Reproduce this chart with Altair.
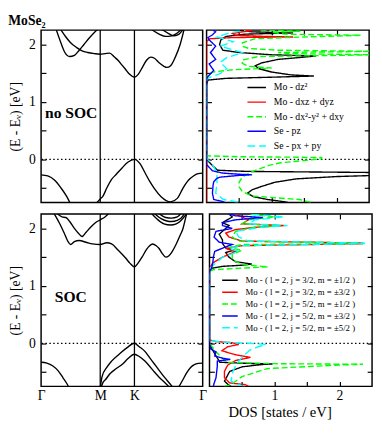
import altair as alt
import pandas as pd

SERIF = "Liberation Serif"

# ---------------- axes / ticks ----------------
K_TICKS = [0.0, 0.577, 0.911, 1.577]
K_LABELS = ["Γ", "M", "K", "Γ"]
K_LINES = [0.577, 0.911]
E_TICKS = [-0.5, 0.0, 0.5, 1.0, 1.5, 2.0]
DOS_TICKS = [0.5, 1.0, 1.5, 2.0]
E_DOMAIN = [-0.75, 2.25]
K_DOMAIN = [0.0, 1.577]
DOS_DOMAIN = [0.0, 2.5]

# ---------------- bands, no SOC ----------------
NS_VB1_K = [0.0, 0.065, 0.130, 0.195, 0.251, 0.288]
NS_VB1_E = [-0.27, -0.29, -0.36, -0.50, -0.65, -0.78]
NS_VB2_K = [0.530, 0.577, 0.604, 0.641, 0.688, 0.734, 0.790, 0.846, 0.911, 0.967, 1.013,
            1.059, 1.106, 1.171, 1.264, 1.329, 1.385, 1.440, 1.487, 1.533, 1.577]
NS_VB2_E = [-0.78, -0.69, -0.64, -0.50, -0.35, -0.26, -0.15, -0.05, 0.0, -0.08, -0.23,
            -0.38, -0.51, -0.65, -0.74, -0.68, -0.50, -0.36, -0.29, -0.25, -0.24]
NS_CB1_K = [0.149, 0.195, 0.232, 0.279, 0.325, 0.372, 0.418, 0.474, 0.548]
NS_CB1_E = [2.25, 2.02, 1.86, 1.79, 1.81, 1.90, 2.00, 2.12, 2.26]
NS_CB2_K = [0.195, 0.242, 0.288, 0.344, 0.400, 0.455, 0.520, 0.577, 0.623, 0.669, 0.716,
            0.753, 0.790, 0.827, 0.864, 0.911, 0.948, 0.994, 1.031, 1.069, 1.106, 1.152,
            1.199, 1.227, 1.264, 1.310, 1.357, 1.394]
NS_CB2_E = [2.25, 2.13, 2.03, 1.95, 1.89, 1.86, 1.84, 1.83, 1.84, 1.85, 1.78,
            1.72, 1.64, 1.56, 1.48, 1.43, 1.48, 1.62, 1.73, 1.78, 1.76, 1.68,
            1.62, 1.60, 1.63, 1.78, 2.00, 2.25]
NS_CB3_K = [1.078, 1.152, 1.217, 1.273, 1.329, 1.366]
NS_CB3_E = [2.26, 2.18, 2.14, 2.15, 2.20, 2.26]
NS_CB4_K = [1.180, 1.245, 1.292, 1.338, 1.385]
NS_CB4_E = [2.26, 2.19, 2.15, 2.17, 2.26]

# ---------------- bands, SOC ----------------
S_VB1_K = [0.0, 0.056, 0.112, 0.167, 0.214, 0.251, 0.274]
S_VB1_E = [-0.33, -0.345, -0.39, -0.48, -0.60, -0.70, -0.78]
S_VB2_K = [0.577, 0.595, 0.641, 0.688, 0.762, 0.836, 0.911, 0.958, 1.013, 1.059, 1.106,
           1.152, 1.199, 1.255, 1.292]
S_VB2_E = [-0.78, -0.58, -0.42, -0.31, -0.19, -0.08, 0.0, -0.06, -0.14, -0.25, -0.36,
           -0.47, -0.58, -0.70, -0.78]
S_VB3_K = [0.585, 0.604, 0.625, 0.672, 0.734, 0.796, 0.846, 0.911, 0.958, 1.013, 1.059,
           1.106, 1.152, 1.199, 1.261]
S_VB3_E = [-0.78, -0.68, -0.64, -0.53, -0.44, -0.36, -0.27, -0.19, -0.23, -0.31, -0.40,
           -0.50, -0.59, -0.67, -0.78]
S_VB4_K = [1.338, 1.385, 1.422, 1.459, 1.496, 1.533, 1.577]
S_VB4_E = [-0.78, -0.63, -0.51, -0.42, -0.37, -0.35, -0.345]
S_CBA_K = [0.130, 0.177, 0.223, 0.260, 0.288, 0.325, 0.372, 0.437, 0.502, 0.577, 0.641,
           0.688, 0.753, 0.827, 0.864, 0.911, 0.948, 0.985, 1.031, 1.059, 1.087, 1.124,
           1.152, 1.180, 1.217, 1.245, 1.273, 1.319, 1.357, 1.385, 1.413, 1.422]
S_CBA_E = [2.25, 2.10, 1.93, 1.78, 1.72, 1.77, 1.79, 1.76, 1.73, 1.72, 1.75,
           1.73, 1.62, 1.48, 1.40, 1.33, 1.40, 1.50, 1.64, 1.70, 1.73, 1.70,
           1.65, 1.57, 1.50, 1.52, 1.58, 1.73, 1.88, 2.00, 2.20, 2.26]
S_CBB_K = [0.158, 0.204, 0.242, 0.279, 0.325, 0.362, 0.400, 0.437, 0.483, 0.530, 0.577,
           0.623, 0.660]
S_CBB_E = [2.26, 2.20, 2.19, 2.12, 2.00, 1.92, 1.86, 1.93, 2.02, 2.10, 2.15, 2.20, 2.26]
S_L1_K = [1.078, 1.134, 1.199, 1.264, 1.319, 1.366, 1.422]
S_L1_E = [2.26, 2.16, 2.08, 2.06, 2.08, 2.14, 2.26]
S_L2_K = [1.106, 1.171, 1.227, 1.273, 1.329, 1.385, 1.394]
S_L2_E = [2.26, 2.17, 2.13, 2.12, 2.14, 2.22, 2.26]
S_L3_K = [1.152, 1.217, 1.273, 1.329, 1.366]
S_L3_E = [2.26, 2.19, 2.18, 2.20, 2.26]

# ---------------- DOS, no SOC ----------------
NS_LABELS = ["Mo - dz²", "Mo - dxz + dyz", "Mo - dx²-y² + dxy", "Se  - pz", "Se  - px + py"]
NS_BLACK_E = [-0.75, -0.73, -0.70, -0.65, -0.59, -0.53, -0.47, -0.40, -0.34, -0.30, -0.28, -0.25,
              -0.23, -0.21, -0.19, -0.12, -0.05, 0.0, 0.1,
              1.30, 1.38, 1.41, 1.43, 1.45, 1.47, 1.52, 1.58, 1.63, 1.68, 1.74, 1.78, 1.80,
              1.82, 1.86, 1.90, 2.0, 2.08, 2.14, 2.18, 2.20, 2.22, 2.25]
NS_BLACK_D = [1.25, 1.14, 0.94, 0.72, 0.63, 0.70, 0.85, 1.05, 1.38, 2.0, 2.6, 2.6,
              2.6, 0.6, 0.17, 0.10, 0.04, 0.0, 0.0,
              0.0, 0.02, 0.3, 1.0, 1.65, 1.3, 1.0, 0.8, 0.75, 0.85, 1.1, 1.5, 1.68,
              1.0, 0.5, 0.25, 0.2, 0.22, 0.3, 0.6, 1.33, 0.7, 0.5]
NS_RED_E = [-0.75, 0.1, 1.30, 2.05, 2.10, 2.12, 2.13, 2.14, 2.16, 2.19, 2.22, 2.24, 2.25]
NS_RED_D = [0.0, 0.0, 0.0, 0.0, 0.05, 0.4, 1.33, 0.9, 0.45, 0.4, 0.55, 0.7, 0.6]
NS_GREEN_E = [-0.75, -0.72, -0.70, -0.64, -0.56, -0.48, -0.40, -0.31, -0.24, -0.17, -0.10, -0.06,
              -0.02, 0.01, 0.033, 0.045, 0.06, 0.1,
              1.30, 1.45, 1.52, 1.56, 1.59, 1.62, 1.67, 1.73, 1.79, 1.82, 1.84, 1.86, 1.88,
              1.90, 1.93, 1.97, 2.03, 2.10, 2.13, 2.16, 2.18, 2.21, 2.23, 2.25]
NS_GREEN_D = [1.6, 1.5, 1.43, 0.7, 0.55, 0.5, 0.5, 0.55, 0.65, 0.8, 0.97, 1.14,
              1.5, 1.77, 1.77, 0.5, 0.02, 0.0,
              0.0, 0.0, 0.1, 0.4, 1.0, 0.65, 0.55, 0.55, 0.8, 2.6, 1.3, 1.1, 2.6,
              1.1, 0.65, 0.55, 0.55, 0.75, 1.5, 2.37, 1.2, 1.0, 1.44, 0.8]
NS_BLUE_E = [-0.75, -0.73, -0.70, -0.59, -0.45, -0.39, -0.33, -0.31, -0.28, -0.27, -0.26, -0.24,
             -0.20, -0.09, 0.1,
             1.30, 1.40, 1.44, 1.55, 1.66, 1.74, 1.86, 1.97, 2.08, 2.12, 2.16, 2.22, 2.25]
NS_BLUE_D = [0.28, 0.23, 0.11, 0.09, 0.10, 0.11, 0.16, 0.21, 0.5, 0.7, 0.5, 0.25,
             0.09, 0.0, 0.0,
             0.0, 0.0, 0.02, 0.11, 0.04, 0.14, 0.06, 0.14, 0.04, 0.02, 0.08, 0.14, 0.1]
NS_CYAN_E = [-0.75, -0.73, -0.70, -0.59, -0.42, -0.23, -0.09, 0.02, 0.1,
             1.30, 1.40, 1.44, 1.49, 1.58, 1.69, 1.77, 1.86, 1.97, 2.05, 2.13, 2.20, 2.25]
NS_CYAN_D = [0.48, 0.41, 0.26, 0.14, 0.16, 0.16, 0.09, 0.0, 0.0,
             0.0, 0.0, 0.08, 0.21, 0.31, 0.21, 0.31, 0.55, 0.21, 0.41, 0.16, 0.35, 0.6]

# ---------------- DOS, SOC ----------------
S_LABELS = ["Mo - ( l = 2, j = 3/2, m = ±1/2 )", "Mo - ( l = 2, j = 3/2, m = ±3/2 )",
            "Mo - ( l = 2, j = 5/2, m = ±1/2 )", "Mo - ( l = 2, j = 5/2, m = ±3/2 )",
            "Mo - ( l = 2, j = 5/2, m = ±5/2 )"]
S_BLACK_E = [-0.75, -0.74, -0.66, -0.49, -0.41, -0.37, -0.36, -0.35, -0.33, -0.20, -0.10, 0.0, 0.1,
             1.25, 1.30, 1.34, 1.36, 1.38, 1.42, 1.50, 1.58, 1.62, 1.66, 1.74, 1.80, 1.90, 2.00,
             2.05, 2.10, 2.20, 2.25]
S_BLACK_D = [0.33, 0.31, 0.23, 0.31, 0.5, 0.8, 0.97, 0.6, 0.16, 0.09, 0.04, 0.0, 0.0,
             0.0, 0.0, 0.2, 0.5, 0.65, 0.4, 0.3, 0.25, 0.38, 0.25, 0.2, 0.2, 0.15, 0.25,
             0.3, 0.2, 0.35, 0.3]
S_RED_E = [-0.75, -0.72, -0.69, -0.60, -0.49, -0.38, -0.30, -0.245, -0.20, -0.13, -0.06, -0.02,
           0.01, 0.03, 0.06, 0.1,
           1.25, 1.30, 1.40, 1.50, 1.55, 1.60, 1.65, 1.70, 1.735, 1.745, 1.78, 1.85, 1.92, 1.98,
           2.02, 2.05, 2.08, 2.15, 2.20, 2.25]
S_RED_D = [0.6, 0.55, 0.31, 0.23, 0.23, 0.28, 0.4, 0.63, 0.4, 0.19, 0.28, 0.45,
           0.35, 0.1, 0.0, 0.0,
           0.0, 0.0, 0.05, 0.2, 0.3, 0.4, 0.25, 0.5, 2.35, 2.35, 0.5, 0.3, 0.25, 0.4,
           0.7, 1.15, 0.5, 0.6, 0.5, 0.4]
S_GREEN_E = [-0.75, -0.72, -0.58, -0.44, -0.38, -0.365, -0.355, -0.33, -0.27, -0.15, 0.0, 0.1,
             1.25, 1.28, 1.31, 1.33, 1.35, 1.38, 1.45, 1.55, 1.62, 1.67, 1.72, 1.735, 1.745,
             1.78, 1.85, 1.95, 2.02, 2.05, 2.08, 2.15, 2.20, 2.25]
S_GREEN_D = [0.23, 0.33, 0.5, 0.89, 1.97, 2.36, 1.0, 0.26, 0.21, 0.1, 0.0, 0.0,
             0.0, 0.05, 0.5, 0.9, 0.7, 0.5, 0.35, 0.35, 0.5, 0.3, 0.5, 2.35, 2.35,
             0.45, 0.35, 0.4, 0.7, 1.1, 0.5, 0.6, 1.0, 0.6]
S_BLUE_E = [-0.75, -0.70, -0.60, -0.50, -0.40, -0.31, -0.28, -0.26, -0.22, -0.15, -0.10, 0.0, 0.1,
            1.25, 1.30, 1.40, 1.50, 1.60, 1.68, 1.72, 1.76, 1.85, 1.95, 2.00, 2.05, 2.10,
            2.15, 2.19, 2.22, 2.25]
S_BLUE_D = [0.06, 0.07, 0.10, 0.11, 0.12, 0.12, 0.32, 0.2, 0.08, 0.1, 0.02, 0.0, 0.0,
            0.0, 0.03, 0.05, 0.06, 0.08, 0.25, 0.35, 0.15, 0.07, 0.1, 0.35, 0.2, 0.2,
            0.4, 0.82, 0.4, 0.3]
S_CYAN_E = [-0.75, -0.74, -0.66, -0.49, -0.35, -0.22, -0.12, -0.06, -0.02, 0.0, 0.02, 0.05, 0.1,
            1.25, 1.30, 1.40, 1.50, 1.60, 1.65, 1.70, 1.735, 1.745, 1.78, 1.85, 1.95, 2.02,
            2.05, 2.08, 2.15, 2.20, 2.25]
S_CYAN_D = [0.55, 0.5, 0.33, 0.36, 0.42, 0.52, 0.62, 0.75, 0.87, 0.6, 0.2, 0.0, 0.0,
            0.0, 0.0, 0.1, 0.2, 0.45, 0.3, 0.5, 2.38, 2.38, 0.6, 0.45, 0.4, 0.8,
            1.2, 0.6, 0.7, 1.15, 0.6]

COLORS = ["#000000", "#ff0000", "#00ff00", "#0000ff", "#00ffff"]
DASHES = [[1, 0], [1, 0], [6, 3], [1, 0], [8, 4]]

BW = 166   # band panel width
DW = 167   # dos panel width
H1 = 177
H2 = 177


def band_frame(bands):
    rows = []
    for b, (ks, es) in enumerate(bands):
        for i, (k, e) in enumerate(zip(ks, es)):
            rows.append({"b": b, "i": i, "k": k, "E": e})
    return pd.DataFrame(rows)


def dos_frame(series):
    rows = []
    for lab, es, ds in series:
        for i, (e, d) in enumerate(zip(es, ds)):
            rows.append({"s": lab, "i": i, "E": e, "D": d})
    return pd.DataFrame(rows)


k_expr = " : ".join(f"abs(datum.value - {t}) < 0.01 ? '{l}'" for t, l in zip(K_TICKS, K_LABELS)) + " : ''"
int_expr = "abs(datum.value % 1) < 0.001 ? format(datum.value, '.0f') : ''"

ys = alt.Scale(domain=E_DOMAIN, nice=False, zero=False)
in_domain = "datum.E >= -0.75 && datum.E <= 2.25"


def inward_y(orient, labels=False, title=None):
    kw = dict(orient=orient, values=E_TICKS, tickSize=5, offset=-5, domain=False, grid=False,
              labels=labels, title=title)
    if labels:
        kw.update(labelExpr=int_expr, labelPadding=6, titlePadding=6)
    return alt.Axis(**kw)


def band_panel(bands, tag, h, show_x, tx):
    df = band_frame(bands)
    xs = alt.Scale(domain=K_DOMAIN, nice=False, zero=False)
    xaxis = (alt.Axis(values=K_TICKS, labelExpr=k_expr, ticks=False, domain=False, grid=False,
                      labelPadding=3, labelFlush=False, title=None) if show_x else None)
    lines = alt.Chart(df).mark_line(color="black", strokeWidth=1.4, interpolate="monotone",
                                    clip=True).encode(
        x=alt.X("k:Q", scale=xs, axis=xaxis),
        y=alt.Y("E:Q", scale=ys, axis=inward_y("left", labels=True, title="(E - Eᵥ)  [eV]")),
        detail="b:N",
        order="i:Q",
    )
    vr = alt.Chart(pd.DataFrame({"k": K_LINES})).mark_rule(color="black", strokeWidth=1.3).encode(
        x=alt.X("k:Q", scale=xs, axis=None))
    zero = alt.Chart(pd.DataFrame({"E": [0.0]})).mark_rule(
        color="black", strokeWidth=1.3, strokeDash=[1.5, 2.5]).encode(
        y=alt.Y("E:Q", scale=ys, axis=None))
    txt = alt.Chart(pd.DataFrame({"t": [tag]})).mark_text(
        font=SERIF, fontSize=16, fontWeight="bold", align="left", baseline="middle").encode(
        x=alt.value(tx), y=alt.value(85), text="t:N")
    rt = alt.Chart(df).transform_filter(in_domain).mark_point(opacity=0, size=1).encode(
        x=alt.X("k:Q", scale=xs, axis=None),
        y=alt.Y("E:Q", scale=ys, axis=inward_y("right")))
    return alt.layer(zero, vr, lines, txt, rt).resolve_axis(
        x="independent", y="independent").properties(width=BW, height=h)


def dos_panel(series, labels, h, show_x, leg):
    df = dos_frame(series)
    xs = alt.Scale(domain=DOS_DOMAIN, nice=False, zero=False)
    cs = alt.Scale(domain=labels, range=COLORS)
    ds = alt.Scale(domain=labels, range=DASHES)
    xkw = dict(orient="bottom", values=DOS_TICKS, tickSize=5, offset=-5, domain=False, grid=False,
               labels=show_x, labelFlush=False, title=None)
    if show_x:
        xkw.update(labelExpr=int_expr, labelPadding=3, title="DOS   [states / eV]",
                   titleFontSize=15, titlePadding=2, titleX=72)
    lines = alt.Chart(df).mark_line(strokeWidth=1.4, clip=True).encode(
        x=alt.X("D:Q", scale=xs, axis=alt.Axis(**xkw)),
        y=alt.Y("E:Q", scale=ys, axis=inward_y("left")),
        color=alt.Color("s:N", scale=cs, legend=None),
        strokeDash=alt.StrokeDash("s:N", scale=ds, legend=None),
        order="i:Q",
    )
    ax2 = alt.Chart(df).transform_filter(in_domain + " && datum.D <= 2.5").mark_point(
        opacity=0, size=1).encode(
        x=alt.X("D:Q", scale=xs, axis=alt.Axis(orient="top", values=DOS_TICKS, tickSize=5, offset=-5,
                                               domain=False, grid=False, labels=False, title=None)),
        y=alt.Y("E:Q", scale=ys, axis=inward_y("right")))
    zero = alt.Chart(pd.DataFrame({"E": [0.0]})).mark_rule(
        color="black", strokeWidth=1.3, strokeDash=[1.5, 2.5]).encode(
        y=alt.Y("E:Q", scale=ys, axis=None))
    x1, x2, xt, y0, step, fs = leg
    legdf = pd.DataFrame({"s": labels})
    base = alt.Chart(legdf).transform_window(r="row_number()").transform_calculate(
        ly=f"{y0} + (datum.r - 1) * {step}")
    lrule = base.mark_rule(strokeWidth=1.5).encode(
        x=alt.value(x1), x2=alt.value(x2),
        y=alt.Y("ly:Q", scale=None, axis=None),
        color=alt.Color("s:N", scale=cs, legend=None),
        strokeDash=alt.StrokeDash("s:N", scale=ds, legend=None))
    ltext = base.mark_text(font=SERIF, fontSize=fs, align="left", baseline="middle",
                           color="black").encode(
        x=alt.value(xt), y=alt.Y("ly:Q", scale=None, axis=None), text="s:N")
    return alt.layer(zero, lines, lrule, ltext, ax2).resolve_axis(
        x="independent", y="independent").properties(width=DW, height=h)


ns_bands = [(NS_VB1_K, NS_VB1_E), (NS_VB2_K, NS_VB2_E), (NS_CB1_K, NS_CB1_E),
            (NS_CB2_K, NS_CB2_E), (NS_CB3_K, NS_CB3_E), (NS_CB4_K, NS_CB4_E)]
s_bands = [(S_VB1_K, S_VB1_E), (S_VB2_K, S_VB2_E), (S_VB3_K, S_VB3_E), (S_VB4_K, S_VB4_E),
           (S_CBA_K, S_CBA_E), (S_CBB_K, S_CBB_E), (S_L1_K, S_L1_E), (S_L2_K, S_L2_E),
           (S_L3_K, S_L3_E)]

ns_series = [(NS_LABELS[0], NS_BLACK_E, NS_BLACK_D), (NS_LABELS[1], NS_RED_E, NS_RED_D),
             (NS_LABELS[2], NS_GREEN_E, NS_GREEN_D), (NS_LABELS[4], NS_CYAN_E, NS_CYAN_D),
             (NS_LABELS[3], NS_BLUE_E, NS_BLUE_D)]
s_series = [(S_LABELS[0], S_BLACK_E, S_BLACK_D), (S_LABELS[1], S_RED_E, S_RED_D),
            (S_LABELS[2], S_GREEN_E, S_GREEN_D), (S_LABELS[4], S_CYAN_E, S_CYAN_D),
            (S_LABELS[3], S_BLUE_E, S_BLUE_D)]

row1 = alt.hconcat(band_panel(ns_bands, "no SOC", H1, False, 4),
                   dos_panel(ns_series, NS_LABELS, H1, False, (42, 61, 69, 59, 15, 10)),
                   spacing=0)
row2 = alt.hconcat(band_panel(s_bands, "SOC", H2, True, 14),
                   dos_panel(s_series, S_LABELS, H2, True, (13, 29, 37, 68, 12.2, 9)),
                   spacing=0)

chart = alt.vconcat(row1, row2, spacing=8).resolve_scale(
    color="independent", strokeDash="independent"
).properties(
    title=alt.TitleParams("MoSe₂", anchor="start", font=SERIF, fontSize=14, fontWeight="bold",
                          offset=1, frame="bounds", color="black"),
    padding={"left": 0, "top": 0, "right": 0, "bottom": 0},
).configure_view(stroke="black", strokeWidth=1.5).configure_axis(
    labelFont=SERIF, titleFont=SERIF, labelFontSize=14, titleFontSize=14,
    labelColor="black", titleColor="black", tickColor="black", tickWidth=1.2,
    titleFontWeight="normal",
)

chart.save("out.html", embed_options={"renderer": "svg", "actions": False})
